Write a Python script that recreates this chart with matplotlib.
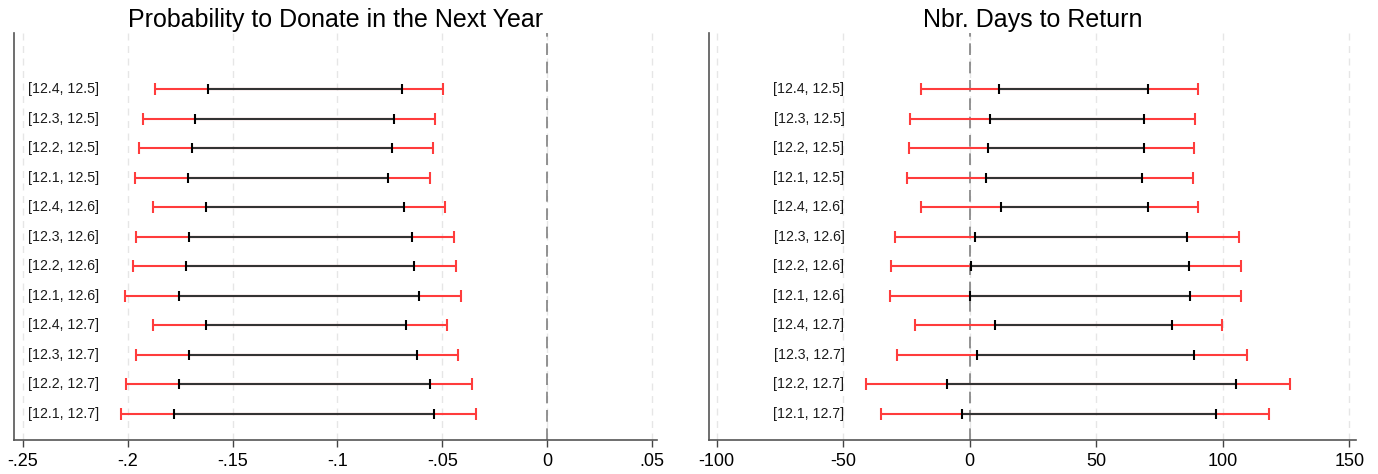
import matplotlib
matplotlib.use('Agg')
import matplotlib.pyplot as plt
import numpy as np

plt.rcParams['font.family'] = ['Liberation Sans', 'DejaVu Sans']

# bandwidth windows, top to bottom
windows = ['[12.4, 12.5]', '[12.3, 12.5]', '[12.2, 12.5]', '[12.1, 12.5]',
           '[12.4, 12.6]', '[12.3, 12.6]', '[12.2, 12.6]', '[12.1, 12.6]',
           '[12.4, 12.7]', '[12.3, 12.7]', '[12.2, 12.7]', '[12.1, 12.7]']

# probability to donate: 95% (red) and 90% (black) intervals
donate_lo95 = [-0.1869, -0.1927, -0.1945, -0.1967, -0.1878, -0.1959,
               -0.1974, -0.2012, -0.1880, -0.1961, -0.2009, -0.2034]
donate_lo90 = [-0.1619, -0.1678, -0.1692, -0.1713, -0.1627, -0.1706,
               -0.1721, -0.1757, -0.1628, -0.1708, -0.1754, -0.1781]
donate_hi90 = [-0.0690, -0.0730, -0.0741, -0.0757, -0.0684, -0.0642,
               -0.0636, -0.0609, -0.0673, -0.0622, -0.0557, -0.0541]
donate_hi95 = [-0.0495, -0.0533, -0.0542, -0.0557, -0.0488, -0.0444,
               -0.0436, -0.0409, -0.0476, -0.0423, -0.0359, -0.0340]

# days to return
days_lo95 = [-19.4, -23.5, -24.1, -24.9, -19.1, -29.6,
             -31.2, -31.5, -21.6, -28.9, -41.1, -34.9]
days_lo90 = [11.7, 7.9, 7.4, 6.5, 12.2, 2.2,
             0.6, 0.2, 10.0, 2.7, -9.1, -2.9]
days_hi90 = [70.6, 68.9, 68.7, 68.0, 70.6, 85.8,
             86.8, 86.9, 79.9, 88.7, 105.3, 97.3]
days_hi95 = [90.2, 89.0, 88.5, 88.1, 90.2, 106.2,
             107.0, 107.1, 99.8, 109.5, 126.6, 118.4]

donate_ticks = [-0.25, -0.2, -0.15, -0.1, -0.05, 0, 0.05]
donate_ticklabels = ['-.25', '-.2', '-.15', '-.1', '-.05', '0', '.05']
days_ticks = [-100, -50, 0, 50, 100, 150]
days_ticklabels = ['-100', '-50', '0', '50', '100', '150']

RED = '#ff3c3c'
DARK = '#333333'


def ci_panel(ax, lo95, lo90, hi90, hi95, ticks, ticklabels, xlim, title,
             label_x, label_ha):
    n = len(windows)
    y = np.arange(n, 0, -1)
    for t in ticks:
        ax.axvline(t, color='#e6e6e6', lw=1.0, ls=(0, (5, 4)), zorder=0)
    ax.axvline(0, color='#808080', lw=1.2, ls=(0, (7, 4)), zorder=1)

    ax.hlines(y, lo95, hi95, color=RED, lw=1.5, zorder=2)
    ax.plot(lo95, y, ls='none', marker='|', ms=8, mew=1.5, color=RED, zorder=3)
    ax.plot(hi95, y, ls='none', marker='|', ms=8, mew=1.5, color=RED, zorder=3)
    ax.hlines(y, lo90, hi90, color=DARK, lw=1.5, zorder=4)
    ax.plot(lo90, y, ls='none', marker='|', ms=7, mew=1.5, color='black', zorder=5)
    ax.plot(hi90, y, ls='none', marker='|', ms=7, mew=1.5, color='black', zorder=5)

    for yi, lab in zip(y, windows):
        ax.text(label_x, yi, lab, ha=label_ha, va='center', fontsize=10.2,
                color='#1a1a1a')

    ax.set_xlim(*xlim)
    ax.set_ylim(0.12, 13.9)
    ax.set_xticks(ticks)
    ax.set_xticklabels(ticklabels, fontsize=13)
    ax.set_yticks([])
    ax.tick_params(axis='x', length=5, width=1, color='#444444', pad=4)
    for s in ['top', 'right']:
        ax.spines[s].set_visible(False)
    for s in ['left', 'bottom']:
        ax.spines[s].set_color('#555555')
        ax.spines[s].set_linewidth(1.2)
    ax.set_title(title, fontsize=18, pad=4)


fig = plt.figure(figsize=(13.78, 4.74), dpi=100)
ax1 = fig.add_axes([0.0102, 0.0717, 0.4666, 0.8587])
ax2 = fig.add_axes([0.5145, 0.0717, 0.4695, 0.8587])

ci_panel(ax1, donate_lo95, donate_lo90, donate_hi90, donate_hi95,
         donate_ticks, donate_ticklabels, (-0.2543, 0.0525),
         'Probability to Donate in the Next Year', -0.2475, 'left')
ci_panel(ax2, days_lo95, days_lo90, days_hi90, days_hi95,
         days_ticks, days_ticklabels, (-103, 152.6),
         'Nbr. Days to Return', -49.5, 'right')

fig.savefig('out.png', dpi=100)
